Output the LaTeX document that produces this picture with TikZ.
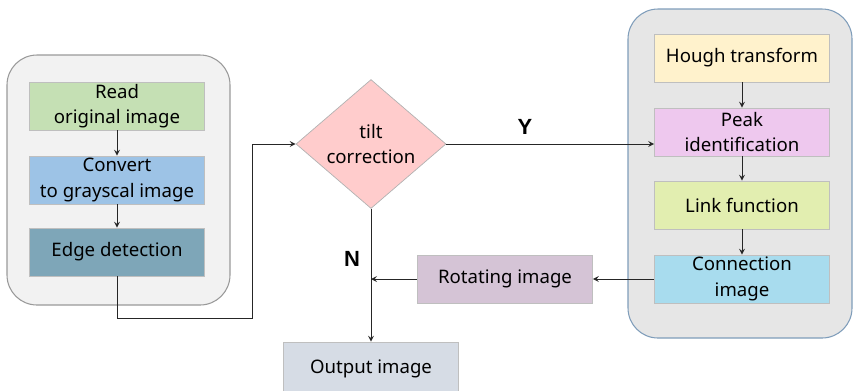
\documentclass[tikz,border=0pt]{standalone}
\usepackage{fontspec}
\setmainfont{Noto Sans}
\newfontfamily\ynfont{Liberation Sans}
\usetikzlibrary{shapes.geometric}

\definecolor{panelL}{HTML}{F2F2F2}
\definecolor{panelR}{HTML}{E6E6E6}
\definecolor{panelRline}{HTML}{7F9DBA}
\definecolor{readc}{HTML}{C5E0B4}
\definecolor{convc}{HTML}{9DC3E6}
\definecolor{edgec}{HTML}{7EA6B8}
\definecolor{tiltc}{HTML}{FFCCCC}
\definecolor{houghc}{HTML}{FFF2CC}
\definecolor{peakc}{HTML}{EEC8EE}
\definecolor{linkc}{HTML}{E2EEB0}
\definecolor{connc}{HTML}{A8DCEE}
\definecolor{rotc}{HTML}{D5C4D6}
\definecolor{outc}{HTML}{D6DCE5}

\tikzset{
  stepbox/.style={draw=black!25, minimum width=3.5cm, minimum height=0.96cm,
    align=center, font=\fontsize{10.6}{14.6}\selectfont, inner sep=1pt},
  panel/.style={rounded corners=0.6cm, line width=0.6pt},
  flow/.style={->, line width=0.5pt, black!85},
  yn/.style={font=\ynfont\bfseries\fontsize{12.5}{14}\selectfont}
}

\begin{document}
\begin{tikzpicture}[color=black, >=stealth, x=0.02cm, y=-0.02cm]
  \useasboundingbox (0,0) rectangle (854,390);
  % Panels
  \draw[panel, draw=black!40, fill=panelL] (7,55) rectangle (230,305);
  \draw[panel, draw=panelRline, fill=panelR] (628,9) rectangle (852,338);
  % Left column
  \node[stepbox, fill=readc] (read) at (117,106) {Read\\original image};
  \node[stepbox, fill=convc] (conv) at (117,180) {Convert\\to grayscal image};
  \node[stepbox, fill=edgec] (edge) at (117,252) {Edge detection};
  % Decision
  \node[diamond, draw=black!30, fill=tiltc, minimum width=3cm, minimum height=2.22cm,
    inner sep=0pt, align=center, font=\fontsize{10.6}{14.6}\selectfont] (tilt) at (371,144)
    {tilt\\correction};
  % Right column
  \node[stepbox, fill=houghc] (hough) at (742,58) {Hough transform};
  \node[stepbox, fill=peakc] (peak) at (742,132) {Peak\\identification};
  \node[stepbox, fill=linkc] (link) at (742,205) {Link function};
  \node[stepbox, fill=connc] (conn) at (742,279) {Connection\\image};
  % Bottom
  \node[stepbox, fill=rotc] (rot) at (505,279) {Rotating image};
  \node[stepbox, fill=outc, minimum height=1.08cm] (out) at (371,369) {Output image};
  % Connectors
  \coordinate (bend) at (252,318);
  \draw[flow] (read) -- (conv);
  \draw[flow] (conv) -- (edge);
  \draw[flow] (edge.south) |- (bend) |- (tilt.west);
  \draw[flow] (tilt.east) -- (tilt.east -| peak.west);
  \node[yn] (ylab) at (525,127) {Y};
  \draw[flow] (hough) -- (peak);
  \draw[flow] (peak) -- (link);
  \draw[flow] (link) -- (conn);
  \draw[flow] (tilt.south) -- (out.north);
  \node[yn] (nlab) at (352,259) {N};
  \draw[flow] (conn.west) -- (rot.east);
  \draw[flow] (rot.west) -- (tilt.south |- rot.west);
\end{tikzpicture}
\end{document}
